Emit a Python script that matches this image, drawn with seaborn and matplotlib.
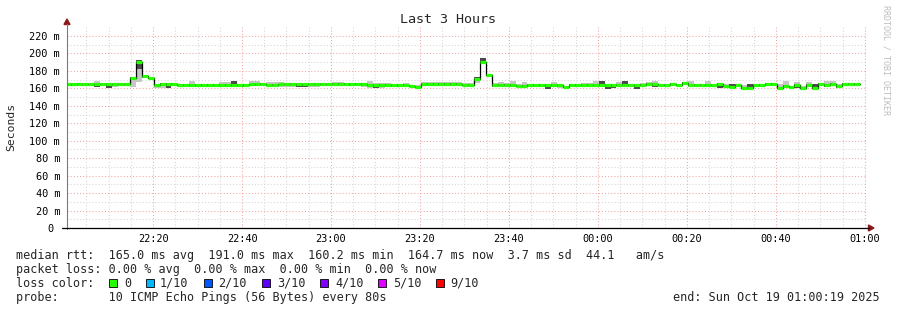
import numpy as np
import pandas as pd
import matplotlib
matplotlib.use("Agg")
import matplotlib.pyplot as plt
from matplotlib.lines import Line2D
from matplotlib.patches import Polygon, Rectangle
import seaborn as sns

W, H = 897, 310

# ---------------- data ----------------
series_start_min = 0.147          # first 80 s step, minutes after 22:00
step_min = 80 / 60

median_ms = [
    164.5, 164.5, 164.5, 164.5, 164.5, 164.5, 164.5, 164.5, 164.5, 164.5,
    164.5, 172.0, 190.6, 174.0, 171.5, 163.8, 165.0, 165.0, 165.0, 163.5,
    164.0, 164.0, 163.5, 163.5, 163.5, 163.5, 164.0, 164.0, 164.0, 164.0,
    164.0, 164.5, 164.5, 165.0, 164.3, 164.3, 164.5, 164.5, 164.5, 164.5,
    164.5, 164.5, 164.5, 164.5, 164.5, 164.8, 164.8, 164.8, 164.8, 164.8,
    164.8, 164.3, 164.3, 164.3, 164.3, 164.0, 164.0, 164.0, 162.5, 162.0,
    165.5, 165.5, 165.5, 165.5, 165.5, 165.5, 165.5, 164.3, 164.3, 171.2,
    190.2, 175.3, 164.3, 164.3, 164.3, 163.5, 163.0, 163.0, 163.5, 163.5,
    163.5, 163.5, 163.5, 163.5, 161.2, 163.5, 163.5, 164.3, 164.3, 164.3,
    164.3, 163.5, 163.5, 164.0, 164.0, 164.0, 163.5, 164.3, 165.4, 165.0,
    164.0, 164.0, 165.0, 164.0, 166.0, 164.0, 164.0, 164.0, 164.0, 164.0,
    165.0, 163.0, 162.0, 164.0, 160.8, 160.5, 164.0, 164.0, 165.0, 165.0,
    160.8, 163.0, 161.0, 164.0, 160.8, 164.0, 160.8, 165.0, 164.0, 165.5,
    163.0, 165.0, 165.0, 164.7,
]

# outer smoke (light grey) extent above / below the median, ms
smoke_up_ms = [
    1.5, 1.5, 1.5, 1.5, 1.5, 4.3, 1.5, 1.5, 1.5, 1.5,
    1.5, 1.0, 1.9, 1.0, 1.0, 1.5, 1.5, 1.5, 1.5, 1.5,
    1.5, 5.0, 1.5, 1.5, 1.5, 1.5, 3.0, 3.0, 4.5, 1.5,
    1.5, 4.5, 4.5, 1.5, 2.7, 2.7, 2.5, 1.5, 1.5, 1.5,
    1.5, 1.5, 1.5, 1.5, 1.5, 2.2, 2.2, 1.5, 1.5, 1.5,
    1.5, 4.7, 1.5, 1.5, 1.5, 1.5, 1.5, 2.5, 1.5, 1.5,
    1.5, 1.5, 1.5, 1.5, 1.5, 1.5, 1.5, 1.5, 1.5, 1.3,
    4.6, 1.2, 1.5, 2.7, 1.5, 4.5, 1.5, 4.0, 1.5, 1.5,
    1.5, 1.5, 3.5, 1.5, 1.5, 1.5, 1.5, 1.5, 1.5, 3.7,
    4.7, 1.5, 1.5, 3.0, 4.0, 1.5, 1.5, 1.5, 1.5, 3.0,
    1.5, 1.5, 1.5, 1.5, 1.5, 4.0, 1.5, 1.5, 4.0, 1.5,
    1.5, 1.5, 3.0, 1.5, 3.2, 4.5, 1.5, 1.5, 1.5, 1.5,
    4.2, 6.0, 2.0, 3.0, 1.5, 3.0, 4.2, 1.5, 4.0, 3.5,
    1.5, 1.5, 1.5, 1.5,
]
smoke_down_ms = [
    1.5, 2.0, 1.5, 1.5, 1.5, 3.0, 1.5, 4.1, 2.5, 1.5,
    1.5, 10.0, 23.3, 2.5, 1.0, 3.8, 4.5, 4.5, 1.5, 1.5,
    1.5, 1.5, 1.5, 1.5, 1.5, 1.5, 3.0, 3.0, 2.0, 1.5,
    2.0, 1.5, 1.5, 1.5, 1.5, 1.5, 3.5, 3.5, 3.5, 3.5,
    3.5, 3.5, 3.5, 1.5, 1.5, 1.5, 1.5, 1.5, 2.5, 1.5,
    3.5, 3.5, 3.5, 3.5, 1.5, 3.0, 3.0, 1.5, 1.5, 1.5,
    2.5, 1.5, 1.5, 2.5, 1.5, 1.5, 1.5, 1.5, 1.5, 4.7,
    2.0, 1.3, 3.3, 1.5, 1.5, 1.5, 1.5, 1.5, 1.5, 1.5,
    1.5, 4.0, 2.5, 3.0, 1.0, 1.5, 1.5, 1.5, 1.5, 1.5,
    2.5, 4.0, 3.5, 1.5, 1.5, 1.5, 4.0, 1.5, 1.5, 4.0,
    1.5, 1.5, 1.5, 1.5, 1.5, 3.0, 3.0, 1.5, 1.5, 1.5,
    5.0, 2.0, 1.5, 1.5, 1.5, 1.5, 3.0, 3.0, 1.5, 1.5,
    1.5, 1.5, 1.5, 4.0, 1.5, 1.5, 1.5, 1.5, 3.0, 1.5,
    3.0, 1.5, 1.5, 1.5,
]
# inner smoke (dark grey) extent above / below the median, ms
core_up_ms = [
    1.0, 1.0, 1.0, 1.0, 1.0, 1.0, 1.0, 1.0, 1.0, 1.0,
    1.0, 1.0, 1.9, 1.0, 1.0, 1.0, 1.0, 1.0, 1.0, 1.0,
    1.0, 1.0, 1.0, 1.0, 1.0, 1.0, 1.0, 1.0, 4.5, 1.0,
    1.0, 1.0, 1.0, 1.0, 1.0, 1.0, 1.0, 1.0, 1.0, 1.0,
    1.0, 1.0, 1.0, 1.0, 1.0, 1.0, 1.0, 1.0, 1.0, 1.0,
    1.0, 1.0, 1.0, 1.0, 1.0, 1.0, 1.0, 1.0, 1.0, 1.0,
    1.0, 1.0, 1.0, 1.0, 1.0, 1.0, 1.0, 1.0, 1.0, 1.3,
    4.6, 1.0, 1.0, 1.0, 1.0, 1.0, 1.0, 1.0, 1.0, 1.0,
    1.0, 1.0, 1.0, 1.0, 1.0, 1.0, 1.0, 1.0, 1.0, 1.0,
    4.7, 1.0, 1.0, 1.0, 4.0, 1.0, 1.0, 1.0, 1.0, 1.0,
    1.0, 1.0, 1.0, 1.0, 1.0, 1.0, 1.0, 1.0, 1.0, 1.0,
    1.0, 1.0, 3.0, 1.0, 1.0, 4.5, 1.0, 1.0, 1.0, 1.0,
    1.0, 1.0, 2.0, 1.0, 1.0, 1.0, 4.2, 1.0, 1.0, 1.0,
    1.0, 1.0, 1.0, 1.0,
]
core_down_ms = [
    1.0, 2.0, 1.0, 1.0, 1.0, 3.0, 1.0, 4.1, 1.0, 1.0,
    1.0, 1.0, 8.6, 2.5, 1.0, 1.0, 1.0, 4.5, 1.0, 1.0,
    1.0, 1.0, 1.0, 1.0, 1.0, 1.0, 1.0, 1.0, 2.0, 1.0,
    2.0, 1.0, 1.0, 1.0, 1.0, 1.0, 1.0, 1.0, 1.0, 3.0,
    3.0, 1.0, 1.0, 1.0, 1.0, 1.0, 1.0, 1.0, 2.5, 1.0,
    1.0, 1.0, 3.5, 1.0, 1.0, 3.0, 3.0, 1.0, 1.0, 1.0,
    1.0, 1.0, 1.0, 1.0, 1.0, 1.0, 1.0, 1.0, 1.0, 1.0,
    1.0, 1.0, 3.3, 1.0, 1.0, 1.0, 1.0, 1.0, 1.0, 1.0,
    1.0, 4.0, 1.0, 1.0, 1.0, 1.0, 1.0, 1.0, 1.0, 1.0,
    1.0, 4.0, 3.5, 1.0, 1.0, 1.0, 4.0, 1.0, 1.0, 4.0,
    1.0, 1.0, 1.0, 1.0, 1.0, 1.0, 1.0, 1.0, 1.0, 1.0,
    5.0, 2.0, 1.0, 1.0, 1.0, 1.0, 3.0, 1.0, 1.0, 1.0,
    1.0, 1.0, 1.0, 4.0, 1.0, 1.0, 1.0, 1.0, 3.0, 1.0,
    3.0, 1.0, 1.0, 1.0,
]

x_tick_pos = [20, 40, 60, 80, 100, 120, 140, 160, 180]
x_tick_labels = ["22:20", "22:40", "23:00", "23:20", "23:40",
                 "00:00", "00:20", "00:40", "01:00"]
y_tick_vals = [0, 20, 40, 60, 80, 100, 120, 140, 160, 180, 200, 220]
y_tick_labels = ["0 ", "20 m", "40 m", "60 m", "80 m", "100 m", "120 m",
                 "140 m", "160 m", "180 m", "200 m", "220 m"]

loss_labels = ["0", "1/10", "2/10", "3/10", "4/10", "5/10", "9/10"]
loss_colors = ["#26ff00", "#00b8ff", "#0059ff", "#5e00ff", "#7e00ff",
               "#dd00ff", "#ff0000"]

title = "Last 3 Hours"
ylabel = "Seconds"
stats_rtt = ("median rtt:  165.0 ms avg  191.0 ms max  160.2 ms min  "
             "164.7 ms now  3.7 ms sd  44.1   am/s")
stats_loss = "packet loss: 0.00 % avg  0.00 % max  0.00 % min  0.00 % now"
loss_head = "loss color:"
probe_line = "probe:       10 ICMP Echo Pings (56 Bytes) every 80s"
end_line = "end: Sun Oct 19 01:00:19 2025"
watermark = "RRDTOOL / TOBI OETIKER"

# ---------------- style ----------------
sns.set_theme(style="white")
plt.rcParams["font.family"] = ["DejaVu Sans Mono", "DejaVu Sans"]

fig = plt.figure(figsize=(W / 100, H / 100), dpi=100, facecolor="white")


def fx(x):
    return x / W


def fy(y):
    return 1 - y / H


ax = fig.add_axes([fx(67), fy(228), 800 / W, (228 - 27) / H])
ax.set_facecolor("white")

n = len(median_ms)
med = np.array(median_ms)
starts = series_start_min + step_min * np.arange(n)
ends = starts + step_min
edges = series_start_min + step_min * np.arange(n + 1)


def ext(a):
    a = np.asarray(a, dtype=float)
    return np.append(a, a[-1])


df = pd.DataFrame({"t": edges, "median": ext(med)})

# smoke
ax.fill_between(edges, ext(med - np.array(smoke_down_ms)),
                ext(med + np.array(smoke_up_ms)), step="post",
                color="#c6c6c6", lw=0, zorder=2)
ax.fill_between(edges, ext(med - np.array(core_down_ms)),
                ext(med + np.array(core_up_ms)), step="post",
                color="#4a4a4a", lw=0, zorder=3)

# black median step line
sns.lineplot(data=df, x="t", y="median", ax=ax, drawstyle="steps-post",
             color="black", lw=0.9, zorder=4, sort=False)
# loss-coloured median segments (all 0 loss)
ax.hlines(med, starts, ends, colors=loss_colors[0], lw=2.3, zorder=5,
          capstyle="butt")

ax.set_xlim(0.674, 180.45)
ax.set_ylim(0, 230.3)

ax.set_xticks(x_tick_pos)
ax.set_xticklabels(x_tick_labels)
ax.set_xticks(np.arange(5, 181, 5), minor=True)
ax.set_yticks(y_tick_vals)
ax.set_yticklabels(y_tick_labels)
ax.set_yticks(np.arange(10, 221, 10), minor=True)

ax.set_axisbelow(True)
ax.grid(which="minor", color="#d6d6d6", lw=0.75, ls=(0, (1, 2)))
ax.grid(which="major", color="#f0a4a4", lw=0.75, ls=(0, (1, 2)))
ax.tick_params(which="both", length=0)
ax.tick_params(axis="x", pad=4.0, labelsize=7.4, colors="black")
ax.tick_params(axis="y", pad=5.0, labelsize=7.4, colors="black")
for s in ax.spines.values():
    s.set_visible(False)
ax.set_xlabel("")
ax.set_ylabel("")

# axes lines & arrows
fig.add_artist(Line2D([fx(67), fx(67)], [fy(229), fy(24)], color="#7a7a7a",
                      lw=0.8, transform=fig.transFigure))
fig.add_artist(Line2D([fx(62), fx(869)], [fy(228), fy(228)], color="black",
                      lw=0.9, transform=fig.transFigure))
fig.add_artist(Polygon([[fx(64), fy(24.5)], [fx(70), fy(24.5)], [fx(67), fy(19)]],
                       closed=True, color="#8b1a1a", transform=fig.transFigure))
fig.add_artist(Polygon([[fx(868.5), fy(225)], [fx(868.5), fy(231)], [fx(874), fy(228)]],
                       closed=True, color="#8b1a1a", transform=fig.transFigure))

# titles
fig.text(fx(448), fy(19.5), title, ha="center", va="center", fontsize=9.6)
fig.text(fx(11), fy(127), ylabel, ha="center", va="center", rotation=90,
         fontsize=8.2)
fig.text(fx(886), fy(60), watermark, ha="center", va="center", rotation=270,
         fontsize=6.0, color="#bdbdbd")

# legend block
fs = 8.5
fig.text(fx(16), fy(259), stats_rtt, ha="left", va="baseline", fontsize=fs)
fig.text(fx(16), fy(272.5), stats_loss, ha="left", va="baseline", fontsize=fs)
fig.text(fx(16), fy(287), loss_head, ha="left", va="baseline", fontsize=fs)
fig.text(fx(16), fy(301), probe_line, ha="left", va="baseline", fontsize=fs)
fig.text(fx(880), fy(301), end_line, ha="right", va="baseline", fontsize=fs)

box_x = [109, 146, 204, 261.7, 320, 377.7, 436]
label_x = [124, 160, 218.3, 276.7, 335, 393.3, 450]
for bx, lx, lab, col in zip(box_x, label_x, loss_labels, loss_colors):
    fig.add_artist(Rectangle((fx(bx), fy(286.7)), 8 / W, 8 / H,
                             facecolor=col, edgecolor="black", lw=0.6,
                             transform=fig.transFigure))
    fig.text(fx(lx), fy(287), lab, ha="left", va="baseline", fontsize=fs)

fig.savefig("out.png", dpi=100, facecolor="white")
